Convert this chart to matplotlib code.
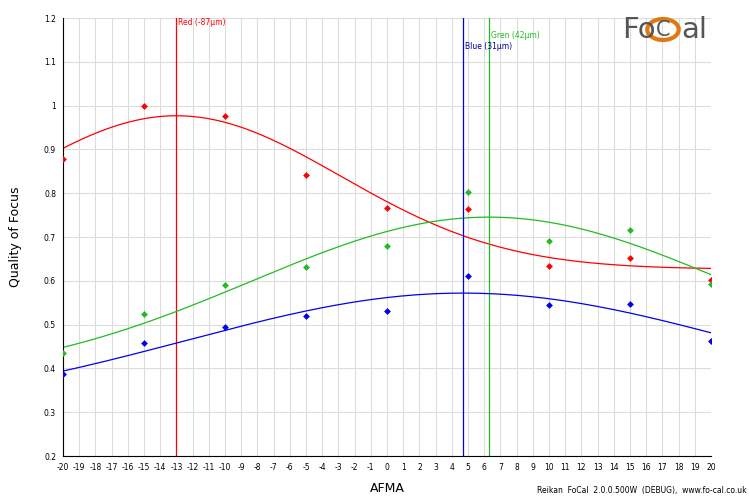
import numpy as np
import matplotlib
matplotlib.use("Agg")
import matplotlib.pyplot as plt
from matplotlib.patches import Circle

plt.rcParams["axes.unicode_minus"] = False

afma = [-20, -15, -10, -5, 0, 5, 10, 15, 20]
red = [0.878, 1.0, 0.977, 0.842, 0.766, 0.763, 0.634, 0.652, 0.601]
green = [0.435, 0.524, 0.591, 0.632, 0.679, 0.802, 0.692, 0.717, 0.593]
blue = [0.387, 0.457, 0.494, 0.519, 0.531, 0.610, 0.544, 0.547, 0.462]
peaks = {"red": -13.0, "blue": 4.7, "green": 6.3}
peak_labels = {"red": "Red (-87µm)", "blue": "Blue (31µm)", "green": "Gren (42µm)"}
label_y = {"red": 1.19, "blue": 1.135, "green": 1.16}
yticks = [0.2, 0.3, 0.4, 0.5, 0.6, 0.7, 0.8, 0.9, 1, 1.1, 1.2]


def gauss_fit(x, y, mu):
    x = np.asarray(x, float); y = np.asarray(y, float)
    best = None
    for sig in np.linspace(3, 40, 400):
        g = np.exp(-0.5 * ((x - mu) / sig) ** 2)
        A = np.vstack([g, np.ones_like(g)]).T
        coef, *_ = np.linalg.lstsq(A, y, rcond=None)
        err = np.sum((A @ coef - y) ** 2)
        if best is None or err < best[0]:
            best = (err, sig, coef)
    _, sig, coef = best
    return lambda t: coef[0] * np.exp(-0.5 * ((t - mu) / sig) ** 2) + coef[1]


fig = plt.figure(figsize=(7.5, 5), dpi=100)
ax = fig.add_axes([0.084, 0.088, 0.864, 0.876])
ax.set_xlim(-20, 20)
ax.set_ylim(0.2, 1.2)
ax.set_xticks(range(-20, 21))
ax.set_yticks(yticks)
ax.set_yticklabels([f"{v:g}" for v in yticks])
ax.tick_params(labelsize=5.5, length=0, pad=5)
ax.grid(True, color="#dcdcdc", linewidth=0.8)
ax.set_axisbelow(True)
for s in ["top", "right"]:
    ax.spines[s].set_visible(False)

cols = {"red": "#ff0000", "green": "#22bb22", "blue": "#0000ee"}
xs = np.linspace(-20, 20, 300)
for name, data in [("red", red), ("green", green), ("blue", blue)]:
    f = gauss_fit(afma, data, peaks[name])
    ax.plot(xs, f(xs), color=cols[name], lw=0.9)
    ax.scatter(afma, data, marker="D", s=12, color=cols[name], zorder=3, linewidths=0)
    ax.axvline(peaks[name], color=cols[name], lw=0.9)
    ax.text(peaks[name] + 0.1, label_y[name], peak_labels[name],
            color=cols[name] if name != "blue" else "#000099", fontsize=5.5, va="center")

ax.set_xlabel("AFMA", fontsize=9, labelpad=7)
ax.set_ylabel("Quality of Focus", fontsize=9, labelpad=16)
fig.text(0.995, 0.01, "Reikan  FoCal  2.0.0.500W  (DEBUG),  www.fo-cal.co.uk", fontsize=5.5, ha="right", va="bottom")

# logo
fig.text(0.830, 0.94, "Fo", fontsize=21, color="#555555", ha="left", va="center")
fig.patches.append(Circle((0.884, 0.941), 0.021, transform=fig.transFigure, fill=False, ec="#e07a10", lw=3))
fig.text(0.884, 0.94, "C", fontsize=15, color="#555555", ha="center", va="center")
fig.text(0.908, 0.94, "al", fontsize=21, color="#555555", ha="left", va="center")

fig.savefig("out.png", dpi=100)
